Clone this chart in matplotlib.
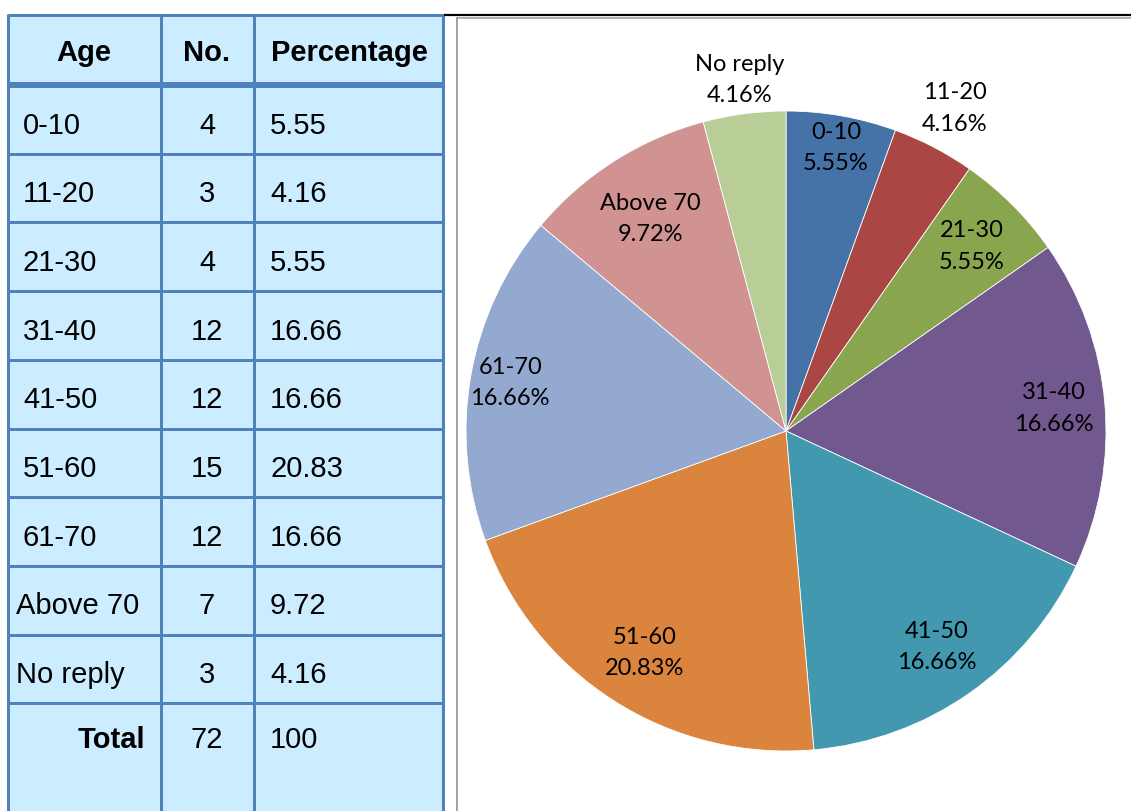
import matplotlib.pyplot as plt
import numpy as np

ages = ['0-10', '11-20', '21-30', '31-40', '41-50', '51-60', '61-70', 'Above 70', 'No reply']
counts = [4, 3, 4, 12, 12, 15, 12, 7, 3]
pcts = ['5.55', '4.16', '5.55', '16.66', '16.66', '20.83', '16.66', '9.72', '4.16']
total_count = 72
total_pct = '100'
headers = ['Age', 'No.', 'Percentage']

colors = ['#4572A7', '#AA4643', '#89A54E', '#71588F', '#4198AF',
          '#DB843D', '#93A9CF', '#D19392', '#B9CD96']
# how far from the centre each label sits (fraction of radius)
lab_dist = [0.90, 1.14, 0.82, 0.84, 0.82, 0.82, 0.875, 0.79, 1.11]

W, H = 1131, 812
fig = plt.figure(figsize=(W/100, H/100), dpi=100)

# background axes in pixel coords for the table and frame
bg = fig.add_axes([0, 0, 1, 1])
bg.set_xlim(0, W)
bg.set_ylim(H, 0)
bg.axis('off')

px = 0.72  # points per pixel
blue = '#4F81BD'
fill = '#CCECFF'

bg.add_patch(plt.Rectangle((8, 16), 435, H - 16, facecolor=fill, edgecolor='none'))

# row boundaries
row_h = 68.7
bounds = [16, 86] + [86 + row_h*(i+1) for i in range(len(ages))]
for i, y in enumerate(bounds):
    lw = 6 if i == 1 else 3
    bg.plot([8, 443], [y, y], color=blue, lw=lw*px, solid_capstyle='butt')
for x in [8, 161, 254, 443]:
    bg.plot([x, x], [15, H], color=blue, lw=3*px, solid_capstyle='butt')

tfont = dict(family='Liberation Sans', fontsize=21, color='black', va='baseline')
bg.text(84, 16 + 45, headers[0], ha='center', fontweight='bold', **tfont)
bg.text(207, 16 + 45, headers[1], ha='center', fontweight='bold', **tfont)
bg.text(349, 16 + 45, headers[2], ha='center', fontweight='bold', **tfont)

for i in range(len(ages)):
    top = bounds[i+1]
    yb = top + 47.5
    xa = 16 if ages[i][0].isalpha() else 23
    bg.text(xa, yb, ages[i], ha='left', **tfont)
    bg.text(207, yb, str(counts[i]), ha='center', **tfont)
    bg.text(270, yb, pcts[i], ha='left', **tfont)

top = bounds[-1]
bg.text(145, top + 44, 'Total', ha='right', fontweight='bold', **tfont)
bg.text(207, top + 44, str(total_count), ha='center', **tfont)
bg.text(270, top + 44, total_pct, ha='left', **tfont)

# chart frame
bg.plot([445, W], [16, 16], color='black', lw=2.2*px)
bg.plot([457, W], [19, 19], color='#999999', lw=1.5*px)
bg.plot([457, 457], [19, H], color='#999999', lw=1.8*px)

# pie
cx, cy, r = 786, 432, 320
ax = fig.add_axes([(cx - r)/W, (H - cy - r)/H, 2*r/W, 2*r/H])
wedges, _ = ax.pie(counts, colors=colors, startangle=90, counterclock=False,
                   radius=1, wedgeprops=dict(edgecolor='white', linewidth=0.6))
ax.set_xlim(-1, 1)
ax.set_ylim(-1, 1)
ax.set_aspect('equal')
ax.axis('off')

for w, age, p, d in zip(wedges, ages, pcts, lab_dist):
    mid = np.deg2rad((w.theta1 + w.theta2) / 2)
    ax.text(d*np.cos(mid), d*np.sin(mid), f'{age}\n{p}%', ha='center', va='center',
            family='Lato', fontsize=17, linespacing=1.6, color='black')

fig.savefig('out.png', dpi=100)
